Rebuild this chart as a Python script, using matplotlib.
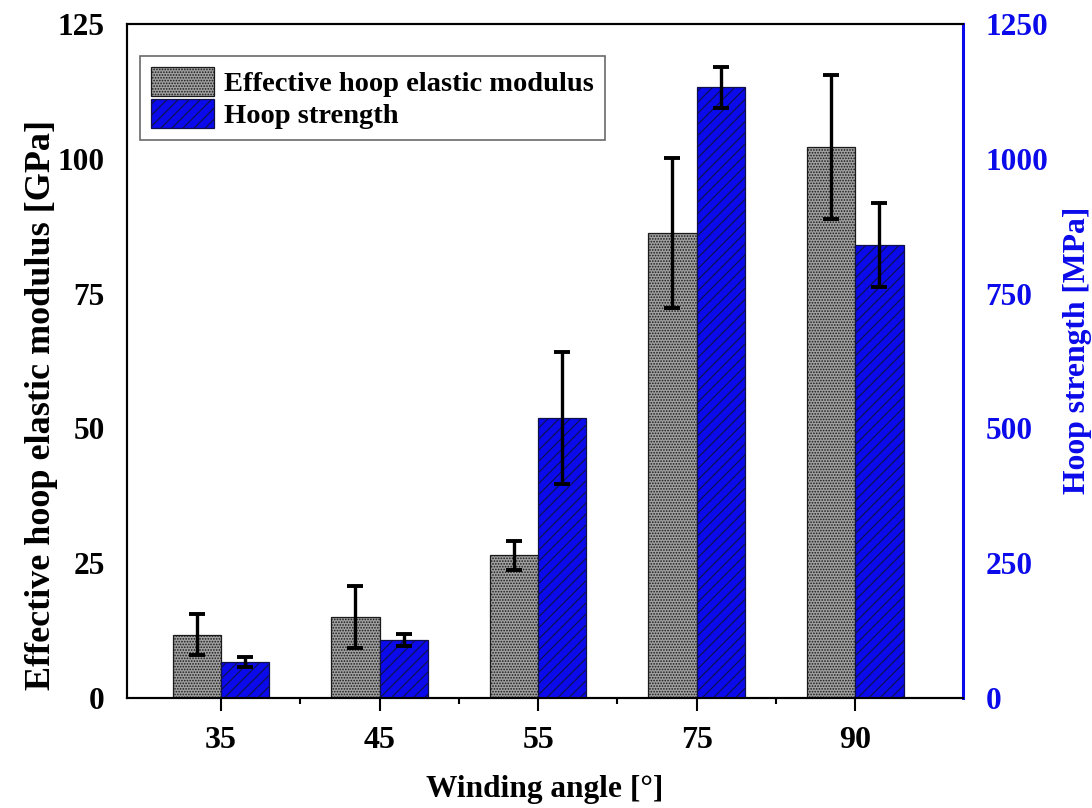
import numpy as np
import matplotlib.pyplot as plt
from matplotlib.ticker import FixedLocator

plt.rcParams['font.family'] = 'Liberation Serif'
plt.rcParams['font.weight'] = 'bold'
plt.rcParams['hatch.linewidth'] = 0.8

angles = ['35', '45', '55', '75', '90']
modulus = [11.7, 15.0, 26.5, 86.2, 102.2]          # GPa
modulus_err = [3.8, 5.8, 2.7, 13.9, 13.4]
strength = [67, 108, 519, 1133, 840]              # MPa
strength_err = [9.5, 11.5, 122, 38, 78]

blue = '#0a0aea'
x = np.arange(len(angles))
w = 0.305

fig = plt.figure(figsize=(10.92, 8.08), dpi=100)
ax = fig.add_axes([0.1163, 0.1361, 0.7656, 0.8342])
ax2 = ax.twinx()

b1 = ax.bar(x - w / 2, modulus, w, color='#a0a0a0', edgecolor='#1a1a1a',
            linewidth=0.9, hatch='......', zorder=2,
            label='Effective hoop elastic modulus')
ax.errorbar(x - w / 2, modulus, yerr=modulus_err, fmt='none', ecolor='black',
            elinewidth=2.4, capsize=5.5, capthick=2.8, zorder=3)

b2 = ax2.bar(x + w / 2, strength, w, color=blue, edgecolor='#10104a',
             linewidth=0.9, hatch='///', zorder=2, label='Hoop strength')
ax2.errorbar(x + w / 2, strength, yerr=strength_err, fmt='none', ecolor='black',
             elinewidth=2.4, capsize=5.5, capthick=2.8, zorder=3)

ax.set_xlim(-0.593, 4.68)
ax.set_ylim(0, 125)
ax2.set_ylim(0, 1250)
ax.set_yticks([0, 25, 50, 75, 100, 125])
ax2.set_yticks([0, 250, 500, 750, 1000, 1250])
ax.set_xticks(x)
ax.set_xticklabels(angles)
ax.xaxis.set_minor_locator(FixedLocator(x[:-1] + 0.5))

ax.tick_params(axis='y', length=0, pad=16, labelsize=22.6)
ax2.tick_params(axis='y', length=0, pad=16, labelsize=22.6, labelcolor=blue)
ax.tick_params(axis='x', which='major', direction='out', length=9, width=1.5,
               pad=11, labelsize=23)
ax.tick_params(axis='x', which='minor', direction='out', length=4.5, width=1.5)

for sp in ax.spines.values():
    sp.set_linewidth(1.5)
for sp in ax2.spines.values():
    sp.set_linewidth(1.5)
ax2.spines['right'].set_color(blue)
ax2.spines['right'].set_linewidth(2.2)
ax.spines['right'].set_visible(False)

ax.set_xlabel('Winding angle [°]', fontsize=22.6, fontweight='bold')
ax.xaxis.set_label_coords(0.5, -0.114)
ax.set_ylabel('Effective hoop elastic modulus [GPa]', fontsize=26,
              fontweight='bold')
ax.yaxis.set_label_coords(-0.0825, 0.435)
ax2.set_ylabel('Hoop strength [MPa]', fontsize=22.8, fontweight='bold',
               color=blue, rotation=90)
ax2.yaxis.set_label_coords(1.12, 0.516)

leg = ax2.legend(handles=[b1, b2], loc='upper left',
                 bbox_to_anchor=(0.0155, 0.953), fontsize=20.5, frameon=True,
                 fancybox=False, edgecolor='#444444', borderpad=0.4,
                 handlelength=2.2, handleheight=1.2, handletextpad=0.35,
                 labelspacing=0.05, borderaxespad=0)
leg.get_frame().set_linewidth(1.2)

fig.savefig('out.png', dpi=100)
